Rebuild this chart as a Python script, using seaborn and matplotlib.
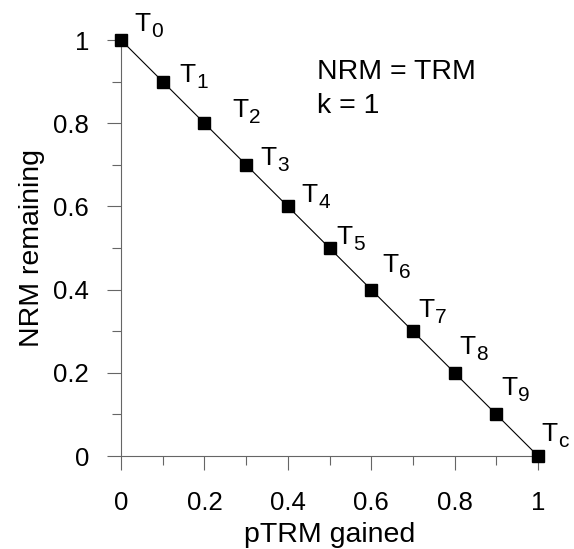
import numpy as np
import pandas as pd
import seaborn as sns
import matplotlib.pyplot as plt

# pTRM gained vs NRM remaining (ideal Arai plot, k = 1)
ptrm_gained = [0.0, 0.1, 0.2, 0.3, 0.4, 0.5, 0.6, 0.7, 0.8, 0.9, 1.0]
nrm_remaining = [1.0, 0.9, 0.8, 0.7, 0.6, 0.5, 0.4, 0.3, 0.2, 0.1, 0.0]
step_labels = ['0', '1', '2', '3', '4', '5', '6', '7', '8', '9', 'c']
tick_values = [0, 0.2, 0.4, 0.6, 0.8, 1]
tick_labels = ['0', '0.2', '0.4', '0.6', '0.8', '1']

# label offsets in pixels (hand placed in the original)
label_dx = [13, 17, 28, 14, 14, 7, 11, 5, 5, 5, 3]
label_dy = [9, 0, 6, 0, 4, 4, 18, 14, 19, 19, 15]

df = pd.DataFrame({'ptrm': ptrm_gained, 'nrm': nrm_remaining})

sns.set_style('ticks')
plt.rcParams['font.family'] = ['Liberation Sans', 'DejaVu Sans']
plt.rcParams['text.color'] = 'black'
plt.rcParams['axes.labelcolor'] = 'black'
plt.rcParams['xtick.labelcolor'] = 'black'
plt.rcParams['ytick.labelcolor'] = 'black'

fig = plt.figure(figsize=(5.74, 5.49), dpi=100)
ax = fig.add_axes([121 / 574, 1 - 456 / 549, 417 / 574, 416 / 549])

sns.lineplot(data=df, x='ptrm', y='nrm', color='black', linewidth=0.8, ax=ax)
ax.plot(df['ptrm'], df['nrm'], linestyle='none', marker='s', markersize=8.6,
        color='black', clip_on=False, zorder=5)

# T with a subscript, drawn as two texts
for x, y, lab, dx, dy in zip(ptrm_gained, nrm_remaining, step_labels, label_dx, label_dy):
    ax.annotate('T', (x, y), xytext=(dx, dy), textcoords='offset pixels',
                ha='left', va='baseline', fontsize=19, annotation_clip=False)
    ax.annotate(lab, (x, y), xytext=(dx + 17, dy - 6), textcoords='offset pixels',
                ha='left', va='baseline', fontsize=15, annotation_clip=False)

fig.text(317 / 574, 1 - 79 / 549, 'NRM = TRM', fontsize=20.5, va='baseline')
fig.text(317 / 574, 1 - 113 / 549, 'k = 1', fontsize=20.5, va='baseline')

ax.set_xlim(0, 1)
ax.set_ylim(0, 1)
ax.set_xticks(tick_values)
ax.set_xticklabels(tick_labels)
ax.set_yticks(tick_values)
ax.set_yticklabels(tick_labels)
ax.set_xticks(np.arange(0.1, 1, 0.2), minor=True)
ax.set_yticks(np.arange(0.1, 1, 0.2), minor=True)

ax.tick_params(which='major', direction='out', length=10, width=0.8, color='#666666', labelsize=18.5)
ax.tick_params(axis='x', which='major', pad=15)
ax.tick_params(axis='y', which='major', pad=13)
ax.tick_params(which='minor', direction='out', length=6.5, width=0.8, color='#666666')

ax.set_xlabel('pTRM gained', fontsize=20.5, labelpad=5)
ax.set_ylabel('NRM remaining', fontsize=20.5, labelpad=6)

sns.despine(ax=ax)
for side in ['left', 'bottom']:
    ax.spines[side].set_color('#666666')
    ax.spines[side].set_linewidth(0.8)

fig.savefig('out.png', dpi=100)
